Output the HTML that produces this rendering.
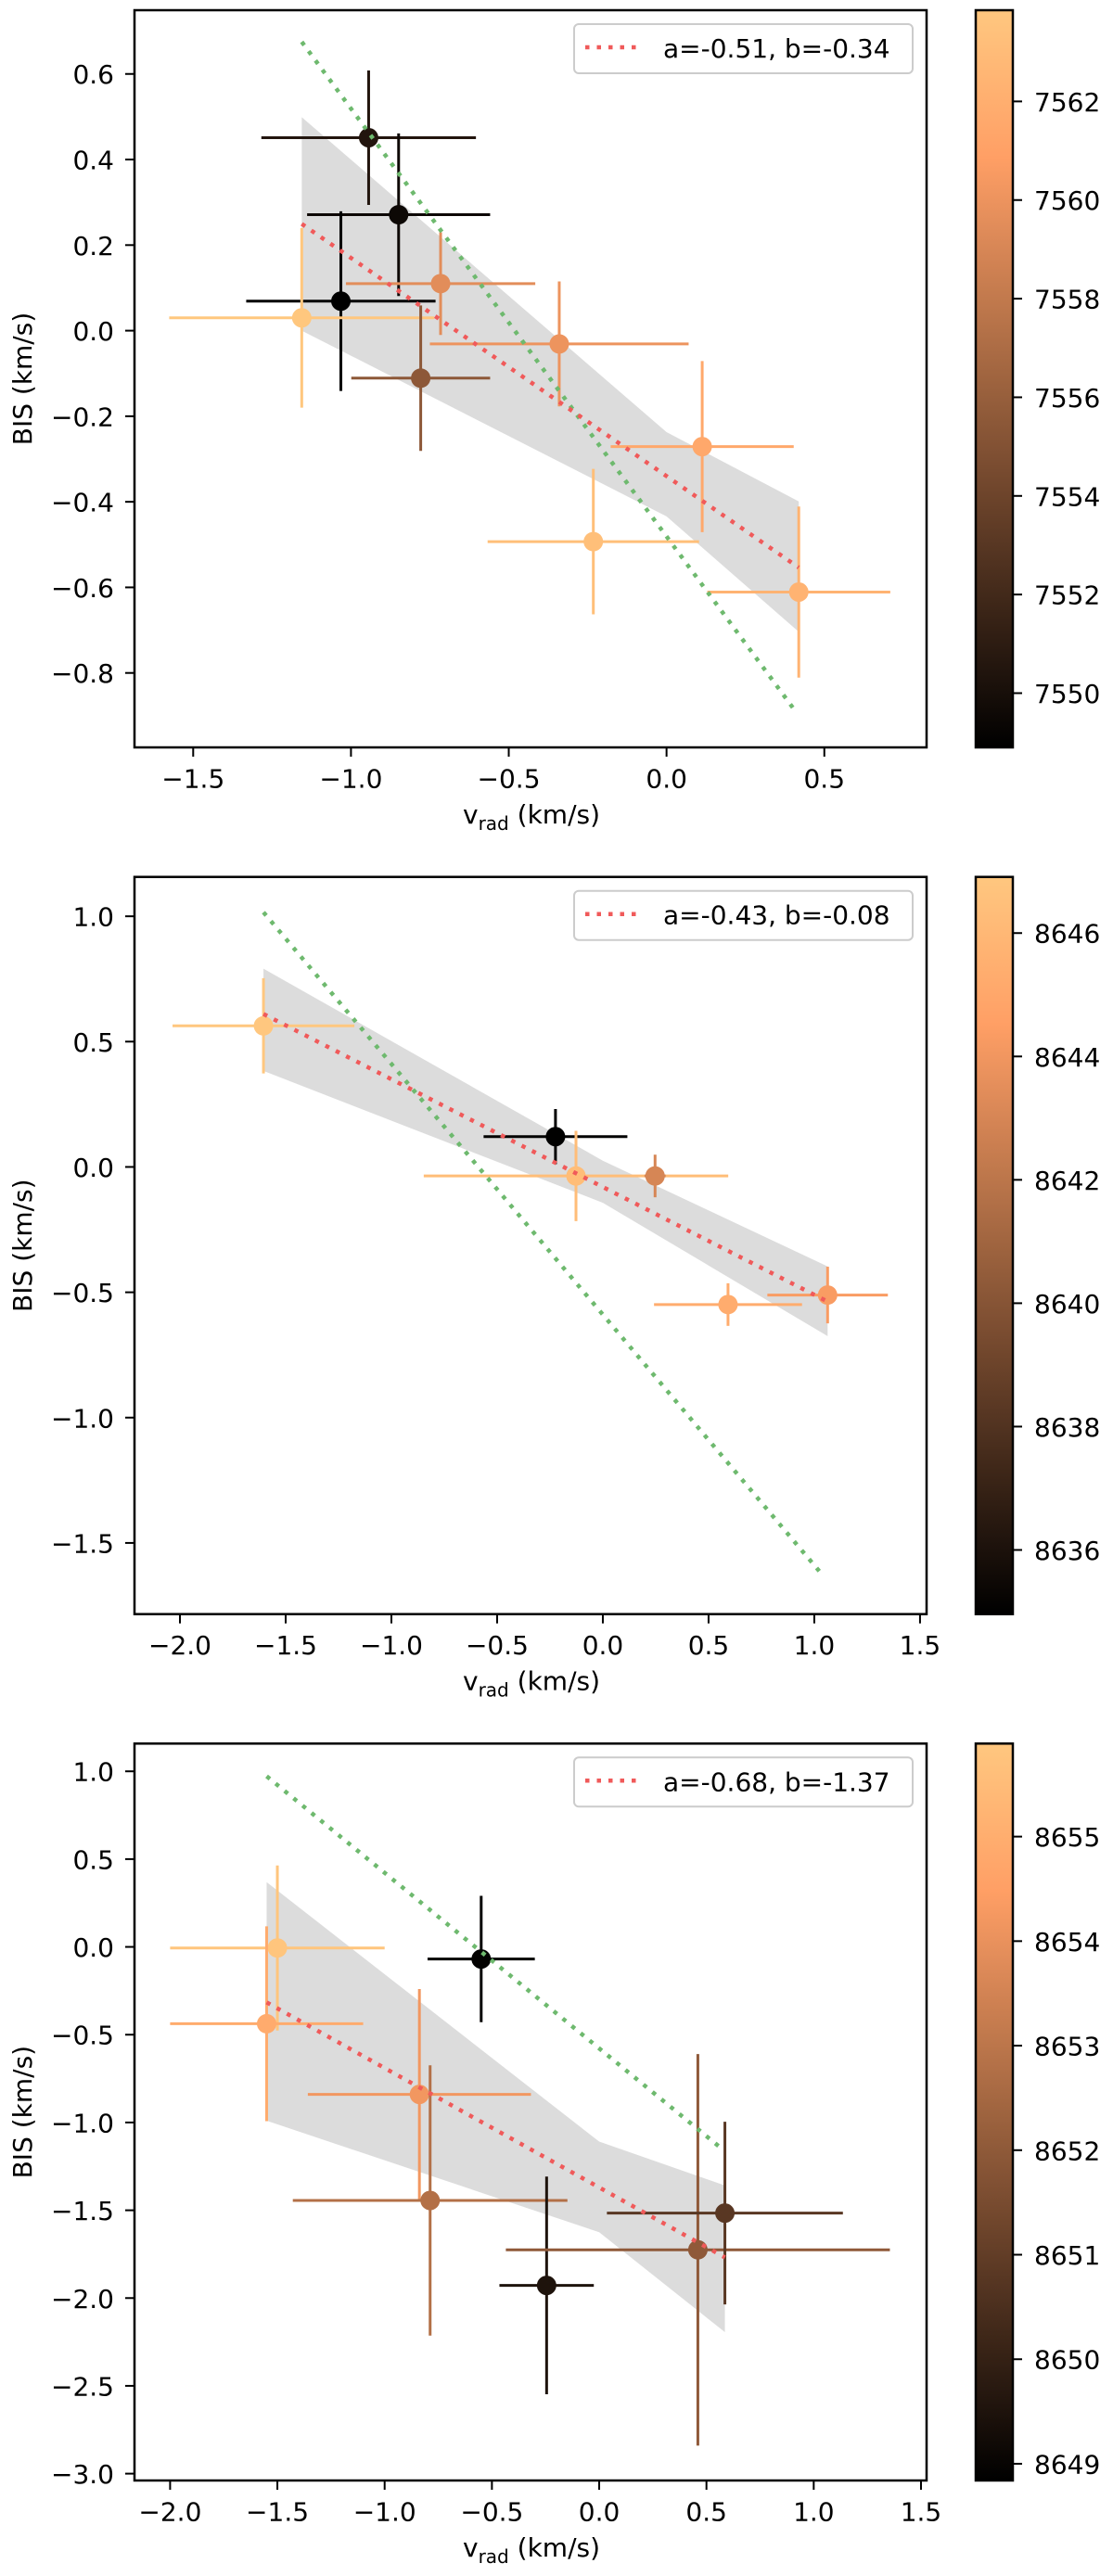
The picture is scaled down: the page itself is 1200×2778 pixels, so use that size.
<!DOCTYPE html>
<html><head><meta charset="utf-8">
<style>
html,body{margin:0;padding:0;background:#fff;}
svg{display:block;}
text{font-family:"DejaVu Sans","Liberation Sans",sans-serif;fill:#000;}
</style></head>
<body>
<svg id="fig" width="1200" height="2778" viewBox="0 0 1200 2778" xmlns="http://www.w3.org/2000/svg"></svg>
<script>
// ---- Panel 1 data ----
const p1_vrad = [-0.944, -0.849, -1.032, -1.156, -0.716, -0.779, -0.340, 0.113, -0.232, 0.419];
const p1_bis = [0.451, 0.271, 0.069, 0.030, 0.110, -0.111, -0.031, -0.271, -0.493, -0.611];
const p1_xerr = [0.34, 0.29, 0.30, 0.42, 0.30, 0.22, 0.41, 0.29, 0.335, 0.29];
const p1_yerr = [0.157, 0.19, 0.21, 0.21, 0.12, 0.17, 0.146, 0.20, 0.17, 0.20];
const p1_time = [7550.5, 7549.5, 7548.9, 7563.8, 7559.5, 7555.5, 7560, 7561.5, 7563.2, 7562.3];
const p1_fit = [-0.51, -0.34];
const p1_green = [-1.0, -0.481, -1.156, 0.41];
const p1_bandX = [-1.156, 0, 0.419];
const p1_bandHi = [0.499, -0.237, -0.399];
const p1_bandLo = [0.0, -0.434, -0.704];
const p1_xticks = [-1.5, -1.0, -0.5, 0.0, 0.5];
const p1_yticks = [0.6, 0.4, 0.2, 0.0, -0.2, -0.4, -0.6, -0.8];
const p1_cticks = [7550, 7552, 7554, 7556, 7558, 7560, 7562];
// ---- Panel 2 data ----
const p2_vrad = [-1.605, -0.224, -0.127, 0.247, 0.592, 1.063];
const p2_bis = [0.563, 0.121, -0.036, -0.036, -0.549, -0.511];
const p2_xerr = [0.43, 0.34, 0.72, 0.05, 0.35, 0.285];
const p2_yerr = [0.19, 0.11, 0.18, 0.085, 0.085, 0.113];
const p2_time = [8646.9, 8635.0, 8646.3, 8643.0, 8645.3, 8644.3];
const p2_fit = [-0.43, -0.08];
const p2_green = [-1.0, -0.589, -1.605, 1.046];
const p2_bandX = [-1.605, 0, 1.063];
const p2_bandHi = [0.791, 0.025, -0.397];
const p2_bandLo = [0.383, -0.143, -0.675];
const p2_xticks = [-2.0, -1.5, -1.0, -0.5, 0.0, 0.5, 1.0, 1.5];
const p2_yticks = [1.0, 0.5, 0.0, -0.5, -1.0, -1.5];
const p2_cticks = [8636, 8638, 8640, 8642, 8644, 8646];
// ---- Panel 3 data ----
const p3_vrad = [-1.50, -1.55, -0.55, -0.838, -0.788, -0.245, 0.46, 0.586];
const p3_bis = [-0.006, -0.4375, -0.069, -0.84, -1.444, -1.928, -1.725, -1.516];
const p3_xerr = [0.50, 0.45, 0.25, 0.52, 0.64, 0.22, 0.895, 0.55];
const p3_yerr = [0.47, 0.555, 0.36, 0.60, 0.77, 0.62, 1.115, 0.52];
const p3_time = [8655.8, 8654.9, 8648.9, 8654.2, 8652.8, 8649.5, 8652.0, 8650.8];
const p3_fit = [-0.68, -1.37];
const p3_green = [-1.0, -0.578, -1.55, 0.576];
const p3_bandX = [-1.55, 0, 0.586];
const p3_bandHi = [0.369, -1.109, -1.359];
const p3_bandLo = [-0.99, -1.625, -2.194];
const p3_xticks = [-2.0, -1.5, -1.0, -0.5, 0.0, 0.5, 1.0, 1.5];
const p3_yticks = [1.0, 0.5, 0.0, -0.5, -1.0, -1.5, -2.0, -2.5, -3.0];
const p3_cticks = [8649, 8650, 8651, 8652, 8653, 8654, 8655];

const panels = [
 {n:1, top:11, bot:806, xr:[-1.686,0.824], yr:[-0.974,0.749], cr:[7548.9,7563.85],
  vrad:p1_vrad,bis:p1_bis,xerr:p1_xerr,yerr:p1_yerr,time:p1_time,fit:p1_fit,green:p1_green,
  bx:p1_bandX,bh:p1_bandHi,bl:p1_bandLo,xt:p1_xticks,yt:p1_yticks,ct:p1_cticks},
 {n:2, top:945.7, bot:1740.7, xr:[-2.215,1.531], yr:[-1.784,1.157], cr:[8634.96,8646.91],
  vrad:p2_vrad,bis:p2_bis,xerr:p2_xerr,yerr:p2_yerr,time:p2_time,fit:p2_fit,green:p2_green,
  bx:p2_bandX,bh:p2_bandHi,bl:p2_bandLo,xt:p2_xticks,yt:p2_yticks,ct:p2_cticks},
 {n:3, top:1880.3, bot:2675, xr:[-2.166,1.526], yr:[-3.039,1.158], cr:[8648.84,8655.89],
  vrad:p3_vrad,bis:p3_bis,xerr:p3_xerr,yerr:p3_yerr,time:p3_time,fit:p3_fit,green:p3_green,
  bx:p3_bandX,bh:p3_bandHi,bl:p3_bandLo,xt:p3_xticks,yt:p3_yticks,ct:p3_cticks}
];

const NS = "http://www.w3.org/2000/svg";
const svg = document.getElementById('fig');
function mk(tag, attrs, parent){
  const e = document.createElementNS(NS, tag);
  for (const k in attrs) e.setAttribute(k, attrs[k]);
  (parent||svg).appendChild(e);
  return e;
}
function copper(t){
  t = Math.max(0, Math.min(1, t));
  const r = Math.min(1, 1.25*t)*255, g = 0.7812*t*255, b = 0.4975*t*255;
  return 'rgb(' + Math.round(r) + ',' + Math.round(g) + ',' + Math.round(b) + ')';
}
function fmt(v){ return (v<0?'\u2212':'') + Math.abs(v).toFixed(1); }

const L = 145, R = 999, CBL = 1052, CBR = 1092;

panels.forEach(function(p){
  const g = mk('g', {});
  
  
  const X = v => L + (v - p.xr[0]) / (p.xr[1] - p.xr[0]) * (R - L);
  const Y = v => p.bot - (v - p.yr[0]) / (p.yr[1] - p.yr[0]) * (p.bot - p.top);
  const C = v => (v - p.cr[0]) / (p.cr[1] - p.cr[0]);
  const clipId = 'clip' + p.n;
  const cp = mk('clipPath', {id: clipId}, g);
  mk('rect', {x:L, y:p.top, width:R-L, height:p.bot-p.top}, cp);
  const plot = mk('g', {'clip-path':'url(#' + clipId + ')'}, g);

  // band
  let pts = [];
  for (let i=0;i<p.bx.length;i++) pts.push(X(p.bx[i]) + ',' + Y(p.bh[i]));
  for (let i=p.bx.length-1;i>=0;i--) pts.push(X(p.bx[i]) + ',' + Y(p.bl[i]));
  const band = mk('polygon', {points: pts.join(' '), fill:'#dcdcdc'}, plot);
  
  

  // points
  for (let i=0;i<p.vrad.length;i++){
    const col = copper(C(p.time[i]));
    const pg = mk('g', {}, plot);
    
    
    mk('line', {x1:X(p.vrad[i]-p.xerr[i]), x2:X(p.vrad[i]+p.xerr[i]), y1:Y(p.bis[i]), y2:Y(p.bis[i]), stroke:col, 'stroke-width':3}, pg);
    mk('line', {x1:X(p.vrad[i]), x2:X(p.vrad[i]), y1:Y(p.bis[i]-p.yerr[i]), y2:Y(p.bis[i]+p.yerr[i]), stroke:col, 'stroke-width':3}, pg);
    mk('ellipse', {cx:X(p.vrad[i]), cy:Y(p.bis[i]), rx:10.5, ry:10.5, fill:col}, pg);
  }

  // green line
  const gx0 = p.green[2], gx1 = p.green[3];
  const gl = mk('line', {x1:X(gx0), y1:Y(p.green[0]*gx0+p.green[1]), x2:X(gx1), y2:Y(p.green[0]*gx1+p.green[1]),
    stroke:'rgb(110,185,110)', 'stroke-width':4.5, 'stroke-dasharray':'4.5 8'}, plot);
  
  
  // red fit line
  const fx0 = Math.min.apply(null, p.vrad), fx1 = Math.max.apply(null, p.vrad);
  const fl = mk('line', {x1:X(fx0), y1:Y(p.fit[0]*fx0+p.fit[1]), x2:X(fx1), y2:Y(p.fit[0]*fx1+p.fit[1]),
    stroke:'rgb(240,90,90)', 'stroke-width':4.5, 'stroke-dasharray':'4.5 8'}, plot);
  
  

  // frame
  const fr = mk('rect', {x:L, y:p.top, width:R-L, height:p.bot-p.top, fill:'none', stroke:'#000', 'stroke-width':2.5}, g);
  
  

  // x ticks
  p.xt.forEach(function(v){
    const x = X(v);
    mk('line', {x1:x, x2:x, y1:p.bot, y2:p.bot+10, stroke:'#000', 'stroke-width':2}, g);
    const t = mk('text', {x:x, y:p.bot+43.5, 'font-size':28, 'text-anchor':'middle'}, g);
    t.textContent = fmt(v);
    
    
  });
  // y ticks
  p.yt.forEach(function(v){
    const y = Y(v);
    mk('line', {x1:L-10, x2:L, y1:y, y2:y, stroke:'#000', 'stroke-width':2}, g);
    const t = mk('text', {x:123, y:y+10.5, 'font-size':28, 'text-anchor':'end'}, g);
    t.textContent = fmt(v);
    
    
  });
  // axis labels
  const xl = mk('text', {x:573, y:p.bot+82, 'font-size':28, 'text-anchor':'middle'}, g);
  xl.innerHTML = 'v<tspan font-size="20" dy="7">rad</tspan><tspan dy="-7"> (km/s)</tspan>';
  
  
  const cy = (p.top + p.bot)/2;
  const yl = mk('text', {x:34, y:cy, 'font-size':28, 'text-anchor':'middle', transform:'rotate(-90 34 ' + cy + ')'}, g);
  yl.textContent = 'BIS (km/s)';
  
  

  // legend
  const lg = mk('g', {}, g);
  
  
  mk('rect', {x:619, y:p.top+15, width:365, height:53, rx:5, fill:'#fff', 'fill-opacity':0.8, stroke:'#cccccc', 'stroke-width':2}, lg);
  mk('line', {x1:631, x2:693, y1:p.top+40, y2:p.top+40, stroke:'rgb(240,90,90)', 'stroke-width':4.5, 'stroke-dasharray':'4.5 8'}, lg);
  const lt = mk('text', {x:715, y:p.top+51, 'font-size':28}, lg);
  lt.textContent = 'a=' + p.fit[0].toFixed(2) + ', b=' + p.fit[1].toFixed(2);
  
  

  // colorbar
  const gid = 'cgrad' + p.n;
  const defs = mk('defs', {}, g);
  const lgd = mk('linearGradient', {id:gid, x1:0, y1:1, x2:0, y2:0}, defs);
  for (let k=0;k<=20;k++){ mk('stop', {offset:(k/20), 'stop-color':copper(k/20)}, lgd); }
  const cb = mk('rect', {x:CBL, y:p.top, width:CBR-CBL, height:p.bot-p.top, fill:'url(#' + gid + ')', stroke:'#000', 'stroke-width':2.5}, g);
  
  
  p.ct.forEach(function(v){
    const y = p.bot - C(v)*(p.bot-p.top);
    mk('line', {x1:CBR, x2:CBR+10, y1:y, y2:y, stroke:'#000', 'stroke-width':2}, g);
    const t = mk('text', {x:1115, y:y+10.5, 'font-size':28}, g);
    t.textContent = String(v);
    
    
  });
});
</script>
</body></html>
